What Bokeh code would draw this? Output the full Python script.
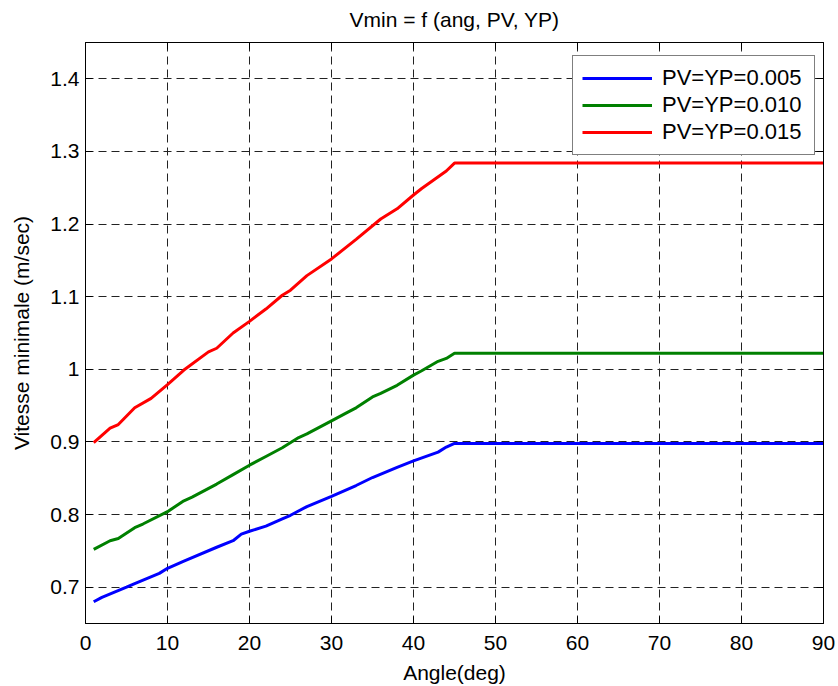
from bokeh.plotting import figure
from bokeh.models import Legend, LegendItem, LinearAxis, FixedTicker, Range1d
from bokeh.embed import file_html
from bokeh.resources import INLINE

# Minimum speed vs. angle for three PV=YP settings
ang_005 = [1, 2, 5, 6, 9, 10, 12, 16, 18, 19, 20, 22, 24, 25, 27, 30, 33, 35, 38, 40, 43, 44, 45, 90]
vmin_005 = [0.680, 0.686, 0.700, 0.705, 0.719, 0.726, 0.736, 0.755, 0.764, 0.773, 0.777, 0.784,
            0.794, 0.799, 0.811, 0.825, 0.840, 0.851, 0.865, 0.874, 0.886, 0.893, 0.898, 0.898]

ang_010 = [1, 3, 4, 6, 7, 10, 12, 13, 16, 18, 20, 22, 24, 26, 27, 30, 32, 33, 35, 36, 38, 40, 41,
           43, 44, 45, 90]
vmin_010 = [0.752, 0.764, 0.767, 0.782, 0.787, 0.804, 0.819, 0.824, 0.842, 0.855, 0.868, 0.880,
            0.892, 0.906, 0.911, 0.929, 0.941, 0.947, 0.962, 0.967, 0.978, 0.992, 0.998, 1.011,
            1.015, 1.022, 1.022]

ang_015 = [1, 3, 4, 6, 8, 10, 12, 15, 16, 18, 20, 22, 24, 25, 27, 30, 33, 36, 38, 40, 41, 44, 45, 90]
vmin_015 = [0.899, 0.919, 0.924, 0.947, 0.960, 0.979, 0.999, 1.024, 1.029, 1.050, 1.066, 1.083,
            1.102, 1.109, 1.129, 1.152, 1.179, 1.207, 1.221, 1.240, 1.249, 1.273, 1.284, 1.284]

series_labels = ["PV=YP=0.005", "PV=YP=0.010", "PV=YP=0.015"]
series_colors = ["#0000ff", "#008000", "#ff0000"]

x_ticks = [0, 10, 20, 30, 40, 50, 60, 70, 80, 90]
y_ticks = [0.7, 0.8, 0.9, 1.0, 1.1, 1.2, 1.3, 1.4]
y_tick_labels = ["0.7", "0.8", "0.9", "1", "1.1", "1.2", "1.3", "1.4"]

chart_title = "Vmin = f (ang, PV, YP)"

FONT = "Liberation Sans"
FS = "21px"

p = figure(width=838, height=686, output_backend="svg", toolbar_location=None,
           x_range=Range1d(0, 90), y_range=Range1d(0.65, 1.45),
           min_border_left=85, min_border_right=15, min_border_top=42, min_border_bottom=62,
           background_fill_color="white", border_fill_color="white")

p.outline_line_color = "black"
p.outline_line_width = 1

def style_axis(ax, ticks, show_labels):
    ax.ticker = FixedTicker(ticks=ticks)
    ax.minor_tick_line_color = None
    ax.major_tick_in = 7
    ax.major_tick_out = 0
    ax.major_tick_line_color = "black"
    ax.axis_line_color = "black"
    ax.major_label_text_font = FONT
    if show_labels:
        ax.major_label_text_font_size = FS
        ax.major_label_text_color = "black"
    else:
        # tick marks only on the opposite sides of the box
        ax.major_label_text_font_size = "1px"
        ax.major_label_text_color = None
        ax.major_label_standoff = 0

xa = p.xaxis[0]
ya = p.yaxis[0]
style_axis(xa, x_ticks, True)
style_axis(ya, y_ticks, True)
ya.major_label_overrides = {t: s for t, s in zip(y_ticks, y_tick_labels)}
xa.major_label_standoff = 12
ya.major_label_standoff = 6

top_ax = LinearAxis()
right_ax = LinearAxis()
style_axis(top_ax, x_ticks, False)
style_axis(right_ax, y_ticks, False)
p.add_layout(top_ax, "above")
p.add_layout(right_ax, "right")

# the heading sits on the top axis, centred over the frame
xa.axis_label = "Angle(deg)"
ya.axis_label = "Vitesse minimale (m/sec)"
top_ax.axis_label = chart_title
for ax in (xa, ya, top_ax):
    ax.axis_label_text_font = FONT
    ax.axis_label_text_font_size = FS
    ax.axis_label_text_font_style = "normal"
    ax.axis_label_text_color = "black"
xa.axis_label_standoff = 8
ya.axis_label_standoff = 14
top_ax.axis_label_standoff = 12

for g in (p.xgrid[0], p.ygrid[0]):
    g.grid_line_color = "#222222"
    g.grid_line_dash = "8 5"
    g.grid_line_width = 1
p.xgrid[0].ticker = FixedTicker(ticks=x_ticks)
p.ygrid[0].ticker = FixedTicker(ticks=y_ticks)

renderers = []
for xs, ys, c in ((ang_005, vmin_005, series_colors[0]),
                  (ang_010, vmin_010, series_colors[1]),
                  (ang_015, vmin_015, series_colors[2])):
    renderers.append(p.line(xs, ys, line_color=c, line_width=3))

legend = Legend(items=[LegendItem(label=l, renderers=[r]) for l, r in zip(series_labels, renderers)],
                location=(487, 468))
legend.label_text_font = FONT
legend.label_text_font_size = "22px"
legend.label_text_color = "black"
legend.glyph_width = 70
legend.glyph_height = 22
legend.label_height = 22
legend.label_width = 143
legend.label_standoff = 10
legend.spacing = 1
legend.padding = 9
legend.margin = 0
legend.border_line_color = "black"
legend.border_line_width = 1
legend.background_fill_color = "white"
legend.background_fill_alpha = 1
p.add_layout(legend, "center")

open("out.html", "w").write(file_html(p, INLINE))
